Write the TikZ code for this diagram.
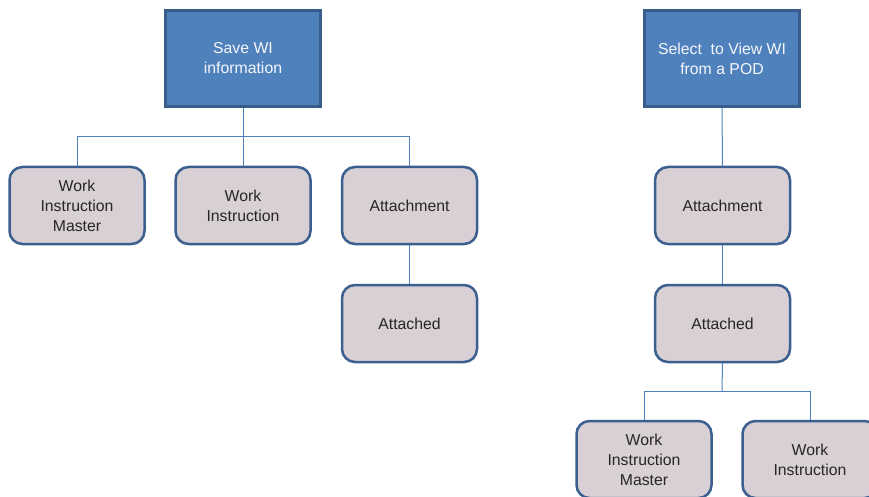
\documentclass[tikz,border=0pt]{standalone}
\usepackage{fontspec}
\setmainfont{Liberation Sans}
\definecolor{hdfill}{RGB}{79,129,189}
\definecolor{hdline}{RGB}{56,93,138}
\definecolor{bxfill}{RGB}{216,208,212}
\definecolor{bxline}{RGB}{59,95,142}
\definecolor{cnline}{RGB}{79,129,189}
\begin{document}
\begin{tikzpicture}[x=1pt,y=-1pt,
  head/.style={draw=hdline,fill=hdfill,line width=2.5pt,minimum width=155pt,minimum height=96pt,
    align=center,text=white!94!hdfill,font=\fontsize{15.8}{20}\selectfont,inner sep=0pt},
  item/.style={draw=bxline,fill=bxfill,line width=2.5pt,rounded corners=13pt,minimum width=135pt,minimum height=77pt,
    align=center,text=black!85,font=\fontsize{15.8}{20}\selectfont,inner sep=0pt},
  conn/.style={draw=cnline,line width=1pt}]
\useasboundingbox (0,0) rectangle (869,497);
\begin{scope}
\clip (0,0) rectangle (869,497);
\node[head] (save) at (243,58.5) {Save WI\\information};
\node[head] (sel) at (722,58.5) {Select\ \ to View WI\\from a POD};
\node[item] (wim1) at (77,205.5) {Work\\Instruction\\Master};
\node[item] (wi1) at (243,205.5) {Work\\Instruction};
\node[item] (att1) at (409.5,205.5) {Attachment};
\node[item] (atd1) at (409.5,323.5) {Attached};
\node[item] (att2) at (722.5,205.5) {Attachment};
\node[item] (atd2) at (722.5,323.5) {Attached};
\node[item] (wim2) at (644,459.5) {Work\\Instruction\\Master};
\node[item] (wi2) at (810,459.5) {Work\\Instruction};
\coordinate (j1) at (243,137);
\coordinate (j2) at (722,391);
\draw[conn] (save.south) -- (j1);
\draw[conn] (j1) -| (wim1.north);
\draw[conn] (j1) -- (wi1.north);
\draw[conn] (j1) -| (att1.north);
\draw[conn] (att1.south) -- (atd1.north);
\draw[conn] (sel.south) -- (att2.north);
\draw[conn] (att2.south) -- (atd2.north);
\draw[conn] (atd2.south) -- (j2);
\draw[conn] (j2) -| (wim2.north);
\draw[conn] (j2) -| (wi2.north);
\end{scope}
\end{tikzpicture}
\end{document}
